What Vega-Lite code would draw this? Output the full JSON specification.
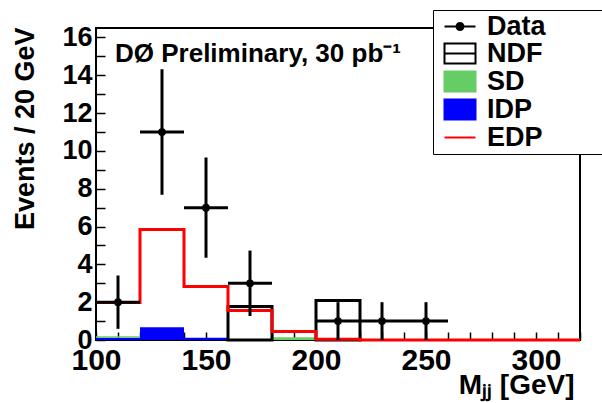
{
  "$schema": "https://vega.github.io/schema/vega-lite/v6.json",
  "width": 484,
  "height": 312,
  "autosize": {"type": "none"},
  "padding": {"left": 96, "top": 28, "right": 22, "bottom": 63},
  "background": "white",
  "config": {
    "view": {"stroke": "black", "strokeWidth": 2},
    "font": "Liberation Sans",
    "axis": {"labelOverlap": false, "labelFlush": false, "labelBound": false, "grid": false, "domain": false, "ticks": true, "tickColor": "black", "tickWidth": 1.5},
    "legend": {
      "orient": "none",
      "legendX": 337,
      "legendY": -18,
      "fillColor": "white",
      "strokeColor": "black",
      "padding": 3,
      "symbolSize": 400,
      "symbolOffset": 10.5,
      "symbolStrokeWidth": 2,
      "symbolOpacity": 1,
      "labelOffset": 13.5,
      "rowPadding": -1.2,
      "labelFont": "Liberation Sans",
      "labelFontSize": 27,
      "labelFontWeight": "bold",
      "labelColor": "black",
      "labelBaseline": "middle",
      "labelLimit": 500
    }
  },
  "title": {
    "text": "DØ Preliminary, 30 pb⁻¹",
    "anchor": "start",
    "frame": "group",
    "orient": "top",
    "offset": -78,
    "dx": 19,
    "font": "Liberation Sans",
    "fontSize": 26,
    "fontWeight": "bold",
    "color": "black",
    "baseline": "alphabetic"
  },
  "datasets": {
    "hist": [
      {"series": "IDP", "x0": 100, "x1": 120, "lo": 0, "hi": 0.12},
      {"series": "SD", "x0": 100, "x1": 120, "lo": 0.12, "hi": 0.2},
      {"series": "IDP", "x0": 120, "x1": 140, "lo": 0, "hi": 0.68},
      {"series": "IDP", "x0": 140, "x1": 160, "lo": 0, "hi": 0.12},
      {"series": "SD", "x0": 180, "x1": 200, "lo": 0, "hi": 0.15}
    ],
    "ndf": [
      {"x0": 160, "x1": 180, "lo": 0, "v": 1.77},
      {"x0": 200, "x1": 220, "lo": 0, "v": 2.09}
    ],
    "edp": [
      {"x": 100, "v": 1.98}, {"x": 120, "v": 5.85}, {"x": 140, "v": 2.83},
      {"x": 160, "v": 1.56}, {"x": 180, "v": 0.45}, {"x": 200, "v": 0.04},
      {"x": 220, "v": 0}, {"x": 240, "v": 0}, {"x": 260, "v": 0},
      {"x": 280, "v": 0}, {"x": 300, "v": 0}, {"x": 320, "v": 0}
    ],
    "pts": [
      {"series": "Data", "x": 110, "y": 2, "ylo": 0.59, "yhi": 3.41, "xlo": 100, "xhi": 120},
      {"series": "Data", "x": 130, "y": 11, "ylo": 7.68, "yhi": 14.32, "xlo": 120, "xhi": 140},
      {"series": "Data", "x": 150, "y": 7, "ylo": 4.35, "yhi": 9.65, "xlo": 140, "xhi": 160},
      {"series": "Data", "x": 170, "y": 3, "ylo": 1.27, "yhi": 4.73, "xlo": 160, "xhi": 180},
      {"series": "Data", "x": 210, "y": 1, "ylo": 0, "yhi": 2, "xlo": 200, "xhi": 220},
      {"series": "Data", "x": 230, "y": 1, "ylo": 0, "yhi": 2, "xlo": 220, "xhi": 240},
      {"series": "Data", "x": 250, "y": 1, "ylo": 0, "yhi": 2, "xlo": 240, "xhi": 260}
    ]
  },
  "layer": [
    {
      "data": {"name": "hist"},
      "mark": {"type": "rect", "strokeWidth": 0},
      "encoding": {
        "x": {"field": "x0", "type": "quantitative", "scale": {"domain": [100, 320], "nice": false, "zero": false},
          "axis": {"values": [100,110,120,130,140,150,160,170,180,190,200,210,220,230,240,250,260,270,280,290,300,310,320], "format": "d", "labelExpr": "datum.value % 50 === 0 ? datum.label : ''", "tickSize": -8, "labelFont": "Liberation Sans", "labelFontSize": 30, "labelFontWeight": "bold", "labelColor": "black", "labelPadding": 13, "title": "Mⱼⱼ [GeV]", "titleFont": "Liberation Sans", "titleFontSize": 28, "titleFontWeight": "bold", "titleColor": "black", "titleX": 478, "titleY": 53, "titleAlign": "right", "titleBaseline": "alphabetic", "titleAnchor": "end"}},
        "x2": {"field": "x1"},
        "y": {"field": "lo", "type": "quantitative", "scale": {"domain": [0, 16.5], "nice": false},
          "axis": {"values": [0,0.5,1,1.5,2,2.5,3,3.5,4,4.5,5,5.5,6,6.5,7,7.5,8,8.5,9,9.5,10,10.5,11,11.5,12,12.5,13,13.5,14,14.5,15,15.5,16], "format": "d", "labelExpr": "datum.value % 2 === 0 ? datum.label : ''", "tickSize": -9, "labelFont": "Liberation Sans", "labelFontSize": 27, "labelFontWeight": "bold", "labelColor": "black", "labelPadding": 13, "title": "Events / 20 GeV", "titleFont": "Liberation Sans", "titleFontSize": 27, "titleFontWeight": "bold", "titleColor": "black", "titleAngle": -90, "titleX": -63, "titleY": -1, "titleAlign": "right", "titleBaseline": "alphabetic", "titleAnchor": "end"}},
        "y2": {"field": "hi"},
        "fill": {
          "field": "series", "type": "nominal",
          "scale": {"domain": ["Data", "NDF", "SD", "IDP", "EDP"], "range": ["black", "white", "#66cc66", "#0000ff", "transparent"]},
          "legend": {"title": null, "labelExpr": "datum.label + '\u2800\u2800\u2800\u2800\u2800\u2800\u2800\u2800\u2800'"}
        }
      }
    },
    {
      "data": {"name": "ndf"},
      "mark": {"type": "rect", "fill": "white", "stroke": "black", "strokeWidth": 3},
      "encoding": {
        "x": {"field": "x0", "type": "quantitative", "scale": {"domain": [100, 320], "nice": false, "zero": false},
          "axis": {"values": [100,110,120,130,140,150,160,170,180,190,200,210,220,230,240,250,260,270,280,290,300,310,320], "format": "d", "labelExpr": "datum.value % 50 === 0 ? datum.label : ''", "tickSize": -8, "labelFont": "Liberation Sans", "labelFontSize": 30, "labelFontWeight": "bold", "labelColor": "black", "labelPadding": 13, "title": "Mⱼⱼ [GeV]", "titleFont": "Liberation Sans", "titleFontSize": 28, "titleFontWeight": "bold", "titleColor": "black", "titleX": 478, "titleY": 53, "titleAlign": "right", "titleBaseline": "alphabetic", "titleAnchor": "end"}},
        "x2": {"field": "x1"},
        "y": {"field": "lo", "type": "quantitative", "scale": {"domain": [0, 16.5], "nice": false},
          "axis": {"values": [0,0.5,1,1.5,2,2.5,3,3.5,4,4.5,5,5.5,6,6.5,7,7.5,8,8.5,9,9.5,10,10.5,11,11.5,12,12.5,13,13.5,14,14.5,15,15.5,16], "format": "d", "labelExpr": "datum.value % 2 === 0 ? datum.label : ''", "tickSize": -9, "labelFont": "Liberation Sans", "labelFontSize": 27, "labelFontWeight": "bold", "labelColor": "black", "labelPadding": 13, "title": "Events / 20 GeV", "titleFont": "Liberation Sans", "titleFontSize": 27, "titleFontWeight": "bold", "titleColor": "black", "titleAngle": -90, "titleX": -63, "titleY": -1, "titleAlign": "right", "titleBaseline": "alphabetic", "titleAnchor": "end"}},
        "y2": {"field": "v"}
      }
    },
    {
      "data": {"name": "edp"},
      "mark": {"type": "line", "interpolate": "step-after", "color": "red", "strokeWidth": 3},
      "encoding": {
        "x": {"field": "x", "type": "quantitative", "scale": {"domain": [100, 320], "nice": false, "zero": false},
          "axis": {"values": [100,110,120,130,140,150,160,170,180,190,200,210,220,230,240,250,260,270,280,290,300,310,320], "format": "d", "labelExpr": "datum.value % 50 === 0 ? datum.label : ''", "tickSize": -8, "labelFont": "Liberation Sans", "labelFontSize": 30, "labelFontWeight": "bold", "labelColor": "black", "labelPadding": 13, "title": "Mⱼⱼ [GeV]", "titleFont": "Liberation Sans", "titleFontSize": 28, "titleFontWeight": "bold", "titleColor": "black", "titleX": 478, "titleY": 53, "titleAlign": "right", "titleBaseline": "alphabetic", "titleAnchor": "end"}},
        "y": {"field": "v", "type": "quantitative", "scale": {"domain": [0, 16.5], "nice": false},
          "axis": {"values": [0,0.5,1,1.5,2,2.5,3,3.5,4,4.5,5,5.5,6,6.5,7,7.5,8,8.5,9,9.5,10,10.5,11,11.5,12,12.5,13,13.5,14,14.5,15,15.5,16], "format": "d", "labelExpr": "datum.value % 2 === 0 ? datum.label : ''", "tickSize": -9, "labelFont": "Liberation Sans", "labelFontSize": 27, "labelFontWeight": "bold", "labelColor": "black", "labelPadding": 13, "title": "Events / 20 GeV", "titleFont": "Liberation Sans", "titleFontSize": 27, "titleFontWeight": "bold", "titleColor": "black", "titleAngle": -90, "titleX": -63, "titleY": -1, "titleAlign": "right", "titleBaseline": "alphabetic", "titleAnchor": "end"}}
      }
    },
    {
      "data": {"name": "pts"},
      "mark": {"type": "rule", "color": "black", "strokeWidth": 3},
      "encoding": {
        "x": {"field": "xlo", "type": "quantitative", "scale": {"domain": [100, 320], "nice": false, "zero": false},
          "axis": {"values": [100,110,120,130,140,150,160,170,180,190,200,210,220,230,240,250,260,270,280,290,300,310,320], "format": "d", "labelExpr": "datum.value % 50 === 0 ? datum.label : ''", "tickSize": -8, "labelFont": "Liberation Sans", "labelFontSize": 30, "labelFontWeight": "bold", "labelColor": "black", "labelPadding": 13, "title": "Mⱼⱼ [GeV]", "titleFont": "Liberation Sans", "titleFontSize": 28, "titleFontWeight": "bold", "titleColor": "black", "titleX": 478, "titleY": 53, "titleAlign": "right", "titleBaseline": "alphabetic", "titleAnchor": "end"}},
        "x2": {"field": "xhi"},
        "y": {"field": "y", "type": "quantitative", "scale": {"domain": [0, 16.5], "nice": false},
          "axis": {"values": [0,0.5,1,1.5,2,2.5,3,3.5,4,4.5,5,5.5,6,6.5,7,7.5,8,8.5,9,9.5,10,10.5,11,11.5,12,12.5,13,13.5,14,14.5,15,15.5,16], "format": "d", "labelExpr": "datum.value % 2 === 0 ? datum.label : ''", "tickSize": -9, "labelFont": "Liberation Sans", "labelFontSize": 27, "labelFontWeight": "bold", "labelColor": "black", "labelPadding": 13, "title": "Events / 20 GeV", "titleFont": "Liberation Sans", "titleFontSize": 27, "titleFontWeight": "bold", "titleColor": "black", "titleAngle": -90, "titleX": -63, "titleY": -1, "titleAlign": "right", "titleBaseline": "alphabetic", "titleAnchor": "end"}}
      }
    },
    {
      "data": {"name": "pts"},
      "mark": {"type": "rule", "color": "black", "strokeWidth": 3},
      "encoding": {
        "x": {"field": "x", "type": "quantitative", "scale": {"domain": [100, 320], "nice": false, "zero": false},
          "axis": {"values": [100,110,120,130,140,150,160,170,180,190,200,210,220,230,240,250,260,270,280,290,300,310,320], "format": "d", "labelExpr": "datum.value % 50 === 0 ? datum.label : ''", "tickSize": -8, "labelFont": "Liberation Sans", "labelFontSize": 30, "labelFontWeight": "bold", "labelColor": "black", "labelPadding": 13, "title": "Mⱼⱼ [GeV]", "titleFont": "Liberation Sans", "titleFontSize": 28, "titleFontWeight": "bold", "titleColor": "black", "titleX": 478, "titleY": 53, "titleAlign": "right", "titleBaseline": "alphabetic", "titleAnchor": "end"}},
        "y": {"field": "ylo", "type": "quantitative", "scale": {"domain": [0, 16.5], "nice": false},
          "axis": {"values": [0,0.5,1,1.5,2,2.5,3,3.5,4,4.5,5,5.5,6,6.5,7,7.5,8,8.5,9,9.5,10,10.5,11,11.5,12,12.5,13,13.5,14,14.5,15,15.5,16], "format": "d", "labelExpr": "datum.value % 2 === 0 ? datum.label : ''", "tickSize": -9, "labelFont": "Liberation Sans", "labelFontSize": 27, "labelFontWeight": "bold", "labelColor": "black", "labelPadding": 13, "title": "Events / 20 GeV", "titleFont": "Liberation Sans", "titleFontSize": 27, "titleFontWeight": "bold", "titleColor": "black", "titleAngle": -90, "titleX": -63, "titleY": -1, "titleAlign": "right", "titleBaseline": "alphabetic", "titleAnchor": "end"}},
        "y2": {"field": "yhi"}
      }
    },
    {
      "data": {"name": "pts"},
      "mark": {"type": "point", "filled": true, "color": "black", "size": 60, "opacity": 1},
      "encoding": {
        "x": {"field": "x", "type": "quantitative", "scale": {"domain": [100, 320], "nice": false, "zero": false},
          "axis": {"values": [100,110,120,130,140,150,160,170,180,190,200,210,220,230,240,250,260,270,280,290,300,310,320], "format": "d", "labelExpr": "datum.value % 50 === 0 ? datum.label : ''", "tickSize": -8, "labelFont": "Liberation Sans", "labelFontSize": 30, "labelFontWeight": "bold", "labelColor": "black", "labelPadding": 13, "title": "Mⱼⱼ [GeV]", "titleFont": "Liberation Sans", "titleFontSize": 28, "titleFontWeight": "bold", "titleColor": "black", "titleX": 478, "titleY": 53, "titleAlign": "right", "titleBaseline": "alphabetic", "titleAnchor": "end"}},
        "y": {"field": "y", "type": "quantitative", "scale": {"domain": [0, 16.5], "nice": false},
          "axis": {"values": [0,0.5,1,1.5,2,2.5,3,3.5,4,4.5,5,5.5,6,6.5,7,7.5,8,8.5,9,9.5,10,10.5,11,11.5,12,12.5,13,13.5,14,14.5,15,15.5,16], "format": "d", "labelExpr": "datum.value % 2 === 0 ? datum.label : ''", "tickSize": -9, "labelFont": "Liberation Sans", "labelFontSize": 27, "labelFontWeight": "bold", "labelColor": "black", "labelPadding": 13, "title": "Events / 20 GeV", "titleFont": "Liberation Sans", "titleFontSize": 27, "titleFontWeight": "bold", "titleColor": "black", "titleAngle": -90, "titleX": -63, "titleY": -1, "titleAlign": "right", "titleBaseline": "alphabetic", "titleAnchor": "end"}}
      }
    },
    {
      "data": {"name": "pts"},
      "mark": {"type": "point", "filled": true, "opacity": 0, "size": 1},
      "encoding": {
        "x": {"field": "x", "type": "quantitative", "scale": {"domain": [100, 320], "nice": false, "zero": false},
          "axis": {"values": [100,110,120,130,140,150,160,170,180,190,200,210,220,230,240,250,260,270,280,290,300,310,320], "format": "d", "labelExpr": "datum.value % 50 === 0 ? datum.label : ''", "tickSize": -8, "labelFont": "Liberation Sans", "labelFontSize": 30, "labelFontWeight": "bold", "labelColor": "black", "labelPadding": 13, "title": "Mⱼⱼ [GeV]", "titleFont": "Liberation Sans", "titleFontSize": 28, "titleFontWeight": "bold", "titleColor": "black", "titleX": 478, "titleY": 53, "titleAlign": "right", "titleBaseline": "alphabetic", "titleAnchor": "end"}},
        "y": {"field": "y", "type": "quantitative", "scale": {"domain": [0, 16.5], "nice": false},
          "axis": {"values": [0,0.5,1,1.5,2,2.5,3,3.5,4,4.5,5,5.5,6,6.5,7,7.5,8,8.5,9,9.5,10,10.5,11,11.5,12,12.5,13,13.5,14,14.5,15,15.5,16], "format": "d", "labelExpr": "datum.value % 2 === 0 ? datum.label : ''", "tickSize": -9, "labelFont": "Liberation Sans", "labelFontSize": 27, "labelFontWeight": "bold", "labelColor": "black", "labelPadding": 13, "title": "Events / 20 GeV", "titleFont": "Liberation Sans", "titleFontSize": 27, "titleFontWeight": "bold", "titleColor": "black", "titleAngle": -90, "titleX": -63, "titleY": -1, "titleAlign": "right", "titleBaseline": "alphabetic", "titleAnchor": "end"}},
        "fill": {
          "field": "series", "type": "nominal",
          "scale": {"domain": ["Data", "NDF", "SD", "IDP", "EDP"], "range": ["black", "white", "#66cc66", "#0000ff", "transparent"]},
          "legend": {"title": null, "labelExpr": "datum.label + '\u2800\u2800\u2800\u2800\u2800\u2800\u2800\u2800\u2800'"}
        },
        "stroke": {
          "field": "series", "type": "nominal",
          "scale": {"domain": ["Data", "NDF", "SD", "IDP", "EDP"], "range": ["black", "black", "#66cc66", "#0000ff", "red"]},
          "legend": {"title": null, "labelExpr": "datum.label + '\u2800\u2800\u2800\u2800\u2800\u2800\u2800\u2800\u2800'"}
        },
        "shape": {
          "field": "series", "type": "nominal",
          "scale": {
            "domain": ["Data", "NDF", "SD", "IDP", "EDP"],
            "range": [
              "M-1.55,0H1.55M-0.35,0A0.35,0.35,0,1,1,0.35,0A0.35,0.35,0,1,1,-0.35,0Z",
              "M-1.55,-1H1.55V1H-1.55ZM-1.55,0H1.55",
              "M-1.55,-1H1.55V1H-1.55Z",
              "M-1.55,-1H1.55V1H-1.55Z",
              "M-1.55,0H1.55"
            ]
          },
          "legend": {"title": null, "labelExpr": "datum.label + '\u2800\u2800\u2800\u2800\u2800\u2800\u2800\u2800\u2800'"}
        }
      }
    }
  ]
}
